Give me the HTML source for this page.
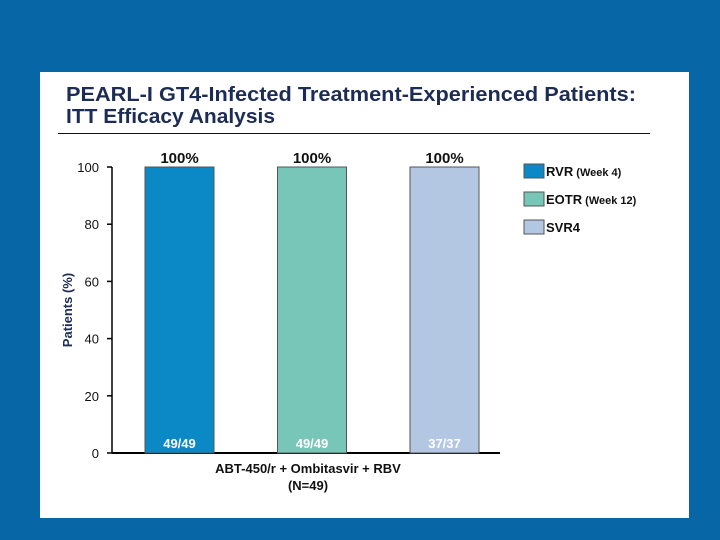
<!DOCTYPE html>
<html><head><meta charset="utf-8"><style>
body{margin:0;width:720px;height:540px;background:#0766a5;overflow:hidden;font-family:"Liberation Sans",sans-serif;}
#panel{position:absolute;left:40px;top:72px;width:649px;height:446px;background:#fff;}
</style></head><body>
<div id="panel"></div>
<svg width="720" height="540" style="position:absolute;left:0;top:0">
<text x="66" y="101" font-size="20" font-weight="bold" fill="#1c2c55" textLength="570" lengthAdjust="spacingAndGlyphs">PEARL-I GT4-Infected Treatment-Experienced Patients:</text>
<text x="66" y="123" font-size="20" font-weight="bold" fill="#1c2c55" textLength="209" lengthAdjust="spacingAndGlyphs">ITT Efficacy Analysis</text>
<line x1="58" y1="133.5" x2="650" y2="133.5" stroke="#111" stroke-width="1"/>
<g id="axes"></g>
<g id="bars"></g>
<text transform="translate(72,310) rotate(-90)" text-anchor="middle" font-size="13" font-weight="bold" fill="#1c2c55">Patients (%)</text>
<text x="308" y="473" text-anchor="middle" font-size="13" font-weight="bold" fill="#111">ABT-450/r + Ombitasvir + RBV</text>
<text x="308" y="490" text-anchor="middle" font-size="13" font-weight="bold" fill="#111">(N=49)</text>
<g id="legend"></g>
</svg>
<script>
const categories=["RVR","EOTR","SVR4"];
const legendSuffix=[" (Week 4)"," (Week 12)",""];
const values=[100,100,100];
const counts=["49/49","49/49","37/37"];
const yTicks=[0,20,40,60,80,100];
const colors=["#0b88c6","#78c6b8","#b3c6e2"];
const NS="http://www.w3.org/2000/svg";
function y(v){return 453-(v/100)*286;}
function bx(i){return 145+i*132.5;}
function mk(t,a,p,txt){const e=document.createElementNS(NS,t);for(const k in a)e.setAttribute(k,a[k]);if(txt!==undefined)e.textContent=txt;p.appendChild(e);return e;}
const ax=document.getElementById('axes');
let e=mk('line',{x1:112,y1:y(0),x2:500,y2:y(0),stroke:'#000','stroke-width':2},ax);


e=mk('line',{x1:112,y1:y(100),x2:112,y2:y(0),stroke:'#000','stroke-width':1.5},ax);


yTicks.forEach(t=>{
 let l=mk('line',{x1:107,y1:y(t),x2:112,y2:y(t),stroke:'#000','stroke-width':1.5},ax);
 
 
 let tx=mk('text',{x:99,y:y(t)+5,'text-anchor':'end','font-size':13,fill:'#111'},ax,String(t));
 
 
});
const bg=document.getElementById('bars');
categories.forEach((c,i)=>{
 const x=bx(i),w=69;
 let r=mk('rect',{x:x,y:y(values[i]),width:w,height:y(0)-y(values[i]),fill:colors[i],stroke:'#555','stroke-width':1},bg);
 
 
 let t=mk('text',{x:x+w/2,y:y(values[i])-4,'text-anchor':'middle','font-size':15,'font-weight':'bold',fill:'#111'},bg,values[i]+'%');
 
 
 let n=mk('text',{x:x+w/2,y:y(0)-5,'text-anchor':'middle','font-size':13,'font-weight':'bold',fill:'#fff'},bg,counts[i]);
 
 
});
const lg=document.getElementById('legend');
categories.forEach((c,i)=>{
 const yy=164+i*28;
 let r=mk('rect',{x:524,y:yy,width:20,height:14,fill:colors[i],stroke:'#555','stroke-width':1},lg);
 
 
 let t=mk('text',{x:546,y:yy+12,'font-size':13,'font-weight':'bold',fill:'#111'},lg);
 
 
 mk('tspan',{},t,c);
 mk('tspan',{'font-size':11},t,legendSuffix[i]);
});
</script>
</body></html>
